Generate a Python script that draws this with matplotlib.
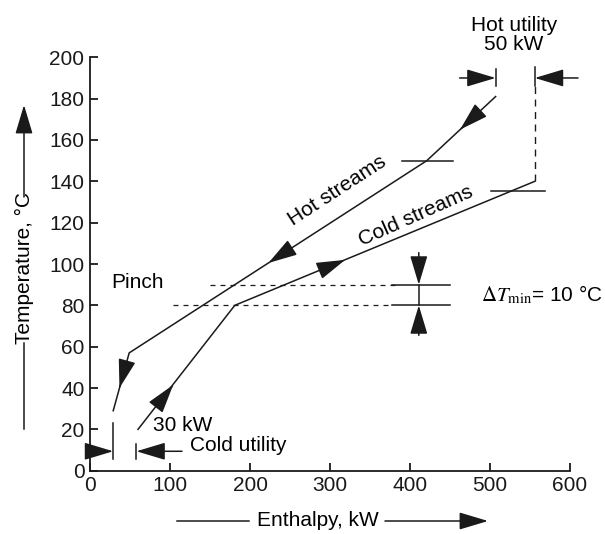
import numpy as np
import matplotlib.pyplot as plt

plt.rcParams['font.family'] = ['Liberation Sans', 'DejaVu Sans']
plt.rcParams['mathtext.fontset'] = 'stix'

# composite curves (enthalpy kW, temperature C)
hot_H = [507, 421, 49, 29]
hot_T = [181, 150, 57, 29]
cold_H = [60, 181, 556]
cold_T = [20, 80, 140]

# arrowhead tips along each segment: (segment index, H, T)
hot_tips = [(0, 462.5, 165), (1, 223, 100.5), (2, 36.8, 40)]
cold_tips = [(0, 104, 41.5), (1, 319, 102)]

pinch_hot_T = 90
pinch_cold_T = 80
hot_util = (507, 556)
cold_util = (29, 58)

lw = 1.1
col = "#1a1a1a"
astyle = "-|>,head_length=0.9,head_width=0.27"
ms = 20

fig = plt.figure(figsize=(6.05, 5.34), dpi=100)
ax = fig.add_axes([90/605, 63.3/534, 480/605, 413.4/534])

ax.plot(hot_H, hot_T, color=col, lw=lw)
ax.plot(cold_H, cold_T, color=col, lw=lw)

def head(H, T, i, tip_H, tip_T):
	dH = H[i+1] - H[i]
	dT = T[i+1] - T[i]
	ax.annotate("", xy=(tip_H, tip_T), xytext=(tip_H - 0.02*dH, tip_T - 0.02*dT),
				arrowprops=dict(arrowstyle=astyle, color=col, lw=lw,
								shrinkA=0, shrinkB=0, mutation_scale=ms))

for i, h, t in hot_tips:
	head(hot_H, hot_T, i, h, t)
for i, h, t in cold_tips:
	head(cold_H, cold_T, i, h, t)

# little horizontal markers on curves
ax.plot([390, 454], [150, 150], color=col, lw=lw)
ax.plot([501, 569], [135.5, 135.5], color=col, lw=lw, clip_on=False)

# pinch lines
ax.plot([150, 385], [pinch_hot_T, pinch_hot_T], color=col, lw=0.9, ls=(0, (4, 4)))
ax.plot([104, 372], [pinch_cold_T, pinch_cold_T], color=col, lw=0.9, ls=(0, (4, 4)))
ax.plot([377, 450], [pinch_hot_T, pinch_hot_T], color=col, lw=lw)
ax.plot([377, 450], [pinch_cold_T, pinch_cold_T], color=col, lw=lw)

# delta T min arrows
ax.plot([411, 411], [pinch_cold_T, pinch_hot_T], color=col, lw=lw)
aprops = dict(arrowstyle=astyle, color=col, lw=lw, shrinkA=0, shrinkB=0, mutation_scale=ms)
ax.annotate("", xy=(411, pinch_hot_T), xytext=(411, 105.5), arrowprops=aprops)
ax.annotate("", xy=(411, pinch_cold_T), xytext=(411, 65.5), arrowprops=aprops)
ax.text(489, 85, r"$\Delta T_{\mathrm{min}}$= 10 °C", fontsize=15, va='center', ha='left',
		math_fontfamily='stix')

# hot utility
ax.plot([hot_util[0]]*2, [186.3, 194.5], color=col, lw=lw, clip_on=False)
ax.plot([hot_util[1]]*2, [186.3, 195.5], color=col, lw=lw, clip_on=False)
ax.plot([hot_util[1]]*2, [140, 186.3], color=col, lw=1.0, ls=(0, (5, 4)))
ax.annotate("", xy=(hot_util[0], 190), xytext=(462, 190), arrowprops=aprops, annotation_clip=False)
ax.annotate("", xy=(hot_util[1], 190), xytext=(610, 190), arrowprops=aprops, annotation_clip=False)
ax.text(530, 211, "Hot utility\n50 kW", fontsize=15, ha='center', va='center',
		linespacing=1.0, clip_on=False)

# cold utility
ax.plot([cold_util[0]]*2, [5.6, 23], color=col, lw=lw)
ax.plot([cold_util[1]]*2, [5.6, 13], color=col, lw=lw)
ax.annotate("", xy=(cold_util[0], 9.4), xytext=(0, 9.4), arrowprops=aprops, annotation_clip=False)
ax.annotate("", xy=(cold_util[1], 9.4), xytext=(115, 9.4), arrowprops=aprops)
ax.text(79, 22, "30 kW", fontsize=15, ha='left', va='center')
ax.text(125, 12, "Cold utility", fontsize=15, ha='left', va='center')

ax.text(27, 91, "Pinch", fontsize=15, ha='left', va='center')
ax.text(309, 135.6, "Hot streams", fontsize=15, ha='center', va='center', rotation=33)
ax.text(407, 123, "Cold streams", fontsize=15, ha='center', va='center', rotation=24)

ax.set_xlim(0, 600)
ax.set_ylim(0, 200)
ax.set_xticks(np.arange(0, 601, 100))
ax.set_yticks(np.arange(0, 201, 20))
ax.spines['top'].set_visible(False)
ax.spines['right'].set_visible(False)
for s in ['left', 'bottom']:
	ax.spines[s].set_linewidth(1.3)
	ax.spines[s].set_color(col)
ax.tick_params(direction='in', length=6, width=1.3, labelsize=15, colors=col, pad=4)

# axis titles with arrows (figure pixels)
fig.text(24/605, 1 - 268/534, "Temperature, °C", rotation=90, fontsize=15, ha='center', va='center')
ax.annotate("", xy=(24, 534-105), xytext=(24, 534-197), xycoords='figure pixels',
			textcoords='figure pixels', arrowprops=aprops)
ax.annotate("", xy=(24, 534-340), xytext=(24, 534-432), xycoords='figure pixels',
			textcoords='figure pixels', arrowprops=dict(arrowstyle="-", color=col, lw=lw))

fig.text(318/605, 1 - 521/534, "Enthalpy, kW", fontsize=15, ha='center', va='center')
ax.annotate("", xy=(252, 534-521), xytext=(174, 534-521), xycoords='figure pixels',
			textcoords='figure pixels', arrowprops=dict(arrowstyle="-", color=col, lw=lw))
ax.annotate("", xy=(488, 534-521), xytext=(385, 534-521), xycoords='figure pixels',
			textcoords='figure pixels', arrowprops=aprops)

fig.savefig("out.png", dpi=100)
